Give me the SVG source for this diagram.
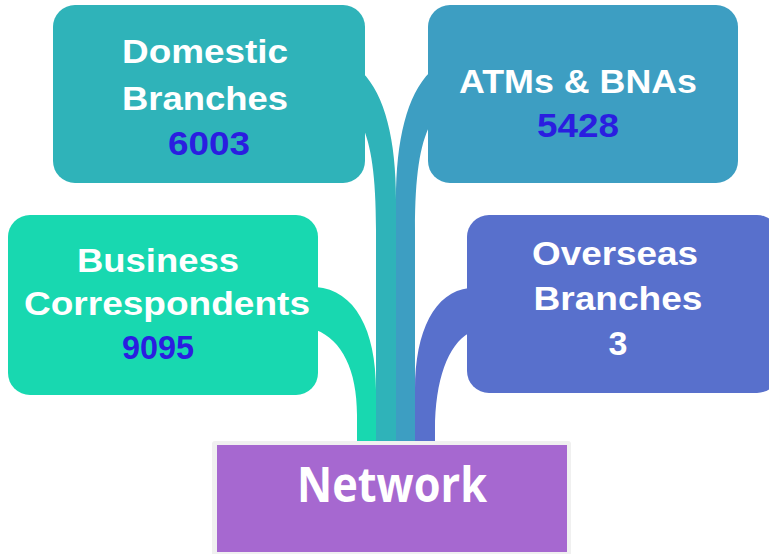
<svg xmlns="http://www.w3.org/2000/svg" width="769" height="554" viewBox="0 0 769 554">
<style>
.lbl{font-family:"Liberation Sans",Arial,sans-serif;font-weight:bold;font-size:34px;fill:#ffffff;text-anchor:middle}
.num{fill:#2a1ee0}
.net{font-family:"Open Sans","Liberation Sans",sans-serif;font-weight:bold;font-size:48px;fill:#ffffff;text-anchor:middle}
</style>
<rect width="769" height="554" fill="#ffffff"/>
<g id="connectors">
<path d="M362,72 C385,95 396,140 396,200 L396,441 L376,441 L376,230 C376,175 371,145 362,125 Z" fill="#2fb3b9"/>
<path d="M430,72 C407,95 396,140 396,200 L396,441 L415,441 L415,230 C415,175 420,145 430,125 Z" fill="#3d9ec2"/>
<path d="M316,287 C355,290 376,330 376,390 L376,441 L357,441 L357,415 C357,370 342,340 316,330 Z" fill="#18d8b0"/>
<path d="M469,288 C435,292 415,330 415,390 L415,441 L435,441 L435,430 C435,380 448,345 469,333 Z" fill="#5870cc"/>
</g>
<g id="domestic">
<rect x="53" y="5" width="312" height="178" rx="22" fill="#2fb3b9"/>
<text class="lbl" x="205" y="63" textLength="166" lengthAdjust="spacingAndGlyphs">Domestic</text>
<text class="lbl" x="205" y="110" textLength="166" lengthAdjust="spacingAndGlyphs">Branches</text>
<text class="lbl num" x="209" y="155" textLength="82" lengthAdjust="spacingAndGlyphs">6003</text>
</g>
<g id="atms">
<rect x="428" y="5" width="310" height="178" rx="22" fill="#3d9ec2"/>
<text class="lbl" x="578" y="93" textLength="238" lengthAdjust="spacingAndGlyphs">ATMs &amp; BNAs</text>
<text class="lbl num" x="578" y="137" textLength="82" lengthAdjust="spacingAndGlyphs">5428</text>
</g>
<g id="business">
<rect x="8" y="215" width="310" height="180" rx="22" fill="#18d8b0"/>
<text class="lbl" x="158" y="272" textLength="162" lengthAdjust="spacingAndGlyphs">Business</text>
<text class="lbl" x="167" y="315" textLength="286" lengthAdjust="spacingAndGlyphs">Correspondents</text>
<text class="lbl num" x="158" y="359" textLength="72" lengthAdjust="spacingAndGlyphs">9095</text>
</g>
<g id="overseas">
<rect x="467" y="215" width="312" height="178" rx="22" fill="#5870cc"/>
<text class="lbl" x="615" y="265" textLength="166" lengthAdjust="spacingAndGlyphs">Overseas</text>
<text class="lbl" x="618" y="310" textLength="169" lengthAdjust="spacingAndGlyphs">Branches</text>
<text class="lbl" x="618" y="355">3</text>
</g>
<g id="network">
<rect x="212" y="441" width="359" height="120" rx="3" fill="#f0f0f0"/>
<rect x="217" y="445" width="350" height="107" fill="#a668d0"/>
<text class="net" x="392" y="502" textLength="190" lengthAdjust="spacingAndGlyphs">Network</text>
</g>
</svg>
